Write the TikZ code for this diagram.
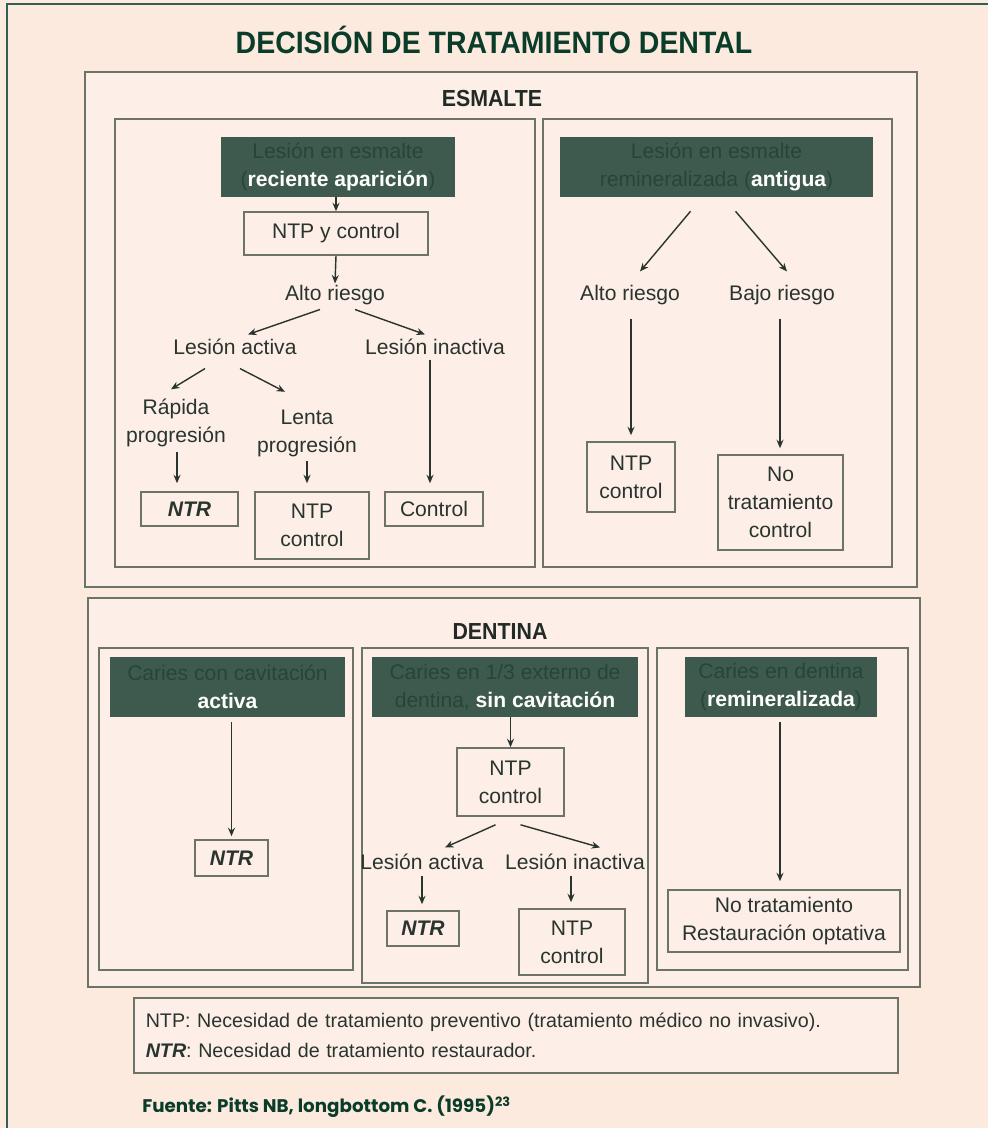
\documentclass[tikz,border=0pt]{standalone}
\usepackage{fontspec}
\setmainfont{Liberation Sans}
\newfontfamily\titlefont[FakeStretch=0.92]{Liberation Sans}
\newfontfamily\fuentefont{Poppins}
\usetikzlibrary{arrows.meta,calc}
\definecolor{fondo}{RGB}{252,234,223}
\definecolor{cajafondo}{RGB}{253,239,231}
\definecolor{marco}{RGB}{108,116,104}
\definecolor{verdecab}{RGB}{62,90,78}
\definecolor{textocab}{RGB}{36,70,56}
\definecolor{titulo}{RGB}{10,60,42}
\definecolor{texto}{RGB}{42,52,47}
\definecolor{borde}{RGB}{50,95,85}
\newcommand\blanco[1]{{\color{white}\bfseries #1}}
\newcommand\ntr{\textbf{\textit{NTR}}}

\begin{document}
\begin{tikzpicture}[x=0.025cm,y=-0.025cm,
    marcos/.style={draw=marco,line width=1.3pt,fill=cajafondo},
    caja/.style={draw=marco,line width=1.1pt,fill=cajafondo,text=texto,align=center,inner sep=0pt,font=\fontsize{15}{20}\selectfont},
    cabecera/.style={fill=verdecab,text=textocab,align=center,inner sep=0pt,minimum height=1.5cm,font=\fontsize{15}{20}\selectfont},
    etiqueta/.style={text=texto,align=center,inner sep=1pt,font=\fontsize{15}{20}\selectfont},
    seccion/.style={text=texto!80!black,font=\titlefont\fontsize{16.5}{18}\selectfont\bfseries},
    flecha/.style={-{Stealth[length=6pt,width=5pt]},line width=1pt,draw=texto}]
    \fill[fondo] (0,0) rectangle (988,1128);
    \useasboundingbox (0,0) rectangle (988,1128);
    \draw[borde,line width=2pt] (7,1128) -- (7,4) -- (988,4);
    \node[text=titulo,font=\titlefont\fontsize{22}{24}\selectfont\bfseries] (titulo) at (494,40) {DECISIÓN DE TRATAMIENTO DENTAL};

    % esmalte
    \draw[marcos] (85,72) rectangle (917,587);
    \node[seccion] (esmalte) at (492,99) {ESMALTE};
    \draw[marcos] (115,119) rectangle (535,567);
    \draw[marcos] (543,119) rectangle (892,567);

    \node[cabecera,minimum width=5.85cm] (h1) at (338,167) {Lesión en esmalte\\(\blanco{reciente aparición})};
    \node[caja,minimum width=4.6cm,minimum height=1.075cm] (ntp1) at (336,233.5) {NTP y control};
    \node[etiqueta] (ar1) at (335,295) {Alto riesgo};
    \node[etiqueta] (la1) at (235,347) {Lesión activa};
    \node[etiqueta] (li1) at (435,347) {Lesión inactiva};
    \node[etiqueta] (rp) at (176,423) {Rápida\\progresión};
    \node[etiqueta] (lp) at (307,433) {Lenta\\progresión};
    \node[caja,minimum width=2.425cm,minimum height=0.85cm] (ntr1) at (189.5,509) {\ntr};
    \node[caja,minimum width=2.85cm,minimum height=1.675cm] (ntp2) at (312,525.5) {NTP\\control};
    \node[caja,minimum width=2.45cm,minimum height=0.85cm] (ctl) at (434,509) {Control};

    \draw[flecha] (h1.south -| ntp1.north) -- (ntp1.north);
    \draw[flecha] (ntp1.south) -- (ar1.north);
    \draw[flecha] ($(ar1.south)+(-15,3)$) -- ($(la1.north)+(13,-3)$);
    \draw[flecha] ($(ar1.south)+(20,3)$) -- ($(li1.north)+(-10,-3)$);
    \draw[flecha] ($(la1.south)+(-30,12)$) -- ($(rp.north)+(-5,-8)$);
    \draw[flecha] ($(la1.south)+(5,12)$) -- ($(lp.north)+(-22,-16)$);
    \draw[flecha] ($(rp.south)+(1,3)$) -- ($(rp.south |- ntr1.north)+(1,-8)$);
    \draw[flecha] ($(lp.south)+(0,3)$) -- ($(lp.south |- ntp2.north)+(0,-8)$);
    \draw[flecha] ($(li1.south)+(-5,3)$) -- ($(li1.south |- ctl.north)+(-5,-8)$);

    \node[cabecera,minimum width=7.825cm] (h2) at (716.5,167) {Lesión en esmalte\\remineralizada (\blanco{antigua})};
    \node[etiqueta] (ar2) at (630,295) {Alto riesgo};
    \node[etiqueta] (br2) at (782,295) {Bajo riesgo};
    \node[caja,minimum width=2.2cm,minimum height=1.75cm] (ntp3) at (631,477) {NTP\\control};
    \node[caja,minimum width=3.125cm,minimum height=2.375cm] (nt1) at (780.5,502.5) {No\\tratamiento\\control};

    \draw[flecha] ($(h2.south)+(-26,14)$) -- ($(ar2.north)+(10,-12)$);
    \draw[flecha] ($(h2.south)+(19,14)$) -- ($(br2.north)+(5,-12)$);
    \draw[flecha] ($(ar2.south)+(1,12)$) -- ($(ar2.south |- ntp3.north)+(1,-6)$);
    \draw[flecha] ($(br2.south)+(-2,12)$) -- ($(br2.south |- nt1.north)+(-2,-6)$);

    % dentina
    \draw[marcos] (88,598) rectangle (920,987);
    \node[seccion] (dentina) at (500,632) {DENTINA};
    \draw[marcos] (99,648) rectangle (353,970);
    \draw[marcos] (362,648) rectangle (648,983);
    \draw[marcos] (657,648) rectangle (908,970);

    \node[cabecera,minimum width=5.875cm] (h3) at (227.5,687) {Caries con cavitación\\\blanco{activa}};
    \node[caja,minimum width=1.825cm,minimum height=0.9cm] (ntr2) at (231.5,858) {\ntr};
    \draw[flecha] ($(h3.south -| ntr2.north)+(0,5)$) -- ($(ntr2.north)+(0,-3)$);

    \node[cabecera,minimum width=6.65cm] (h4) at (505,687) {Caries en 1/3 externo de\\dentina, \blanco{sin cavitación}};
    \node[caja,minimum width=2.675cm,minimum height=1.7cm] (ntp4) at (510.5,782) {NTP\\control};
    \node[etiqueta] (la2) at (422,862) {Lesión activa};
    \node[etiqueta] (li2) at (575,862) {Lesión inactiva};
    \node[caja,minimum width=1.8cm,minimum height=0.875cm] (ntr3) at (423,928.5) {\ntr};
    \node[caja,minimum width=2.65cm,minimum height=1.65cm] (ntp5) at (572,942) {NTP\\control};

    \draw[flecha] (h4.south -| ntp4.north) -- (ntp4.north);
    \draw[flecha] ($(ntp4.south)+(-15,8)$) -- ($(la2.north)+(23,-5)$);
    \draw[flecha] ($(ntp4.south)+(10,8)$) -- ($(li2.north)+(25,-5)$);
    \draw[flecha] ($(la2.south)+(0,4)$) -- ($(la2.south |- ntr3.north)+(0,-6)$);
    \draw[flecha] ($(li2.south)+(-4,4)$) -- ($(li2.south |- ntp5.north)+(-4,-6)$);

    \node[cabecera,minimum width=4.8cm] (h5) at (781,687) {Caries en dentina\\(\blanco{remineralizada})};
    \node[caja,minimum width=5.8cm,minimum height=1.55cm] (nt2) at (784,921) {No tratamiento\\Restauración optativa};
    \draw[flecha] ($(h5.south)+(-1,5)$) -- ($(h5.south |- nt2.north)+(-1,-8)$);

    % leyenda
    \node[caja,anchor=north west,align=left,text width=18.5cm,inner xsep=0.3cm,minimum height=1.875cm,font=\fontsize{14}{21}\selectfont] (leyenda) at (133,997)
        {NTP: Necesidad de tratamiento preventivo (tratamiento médico no invasivo).\\\ntr: Necesidad de tratamiento restaurador.};
    \node[anchor=west,text=titulo,inner sep=0pt,font=\fuentefont\fontsize{13}{15}\selectfont\bfseries] (fuente) at (142,1107)
        {Fuente: Pitts NB, longbottom C. (1995)\textsuperscript{23}};
\end{tikzpicture}
\end{document}
